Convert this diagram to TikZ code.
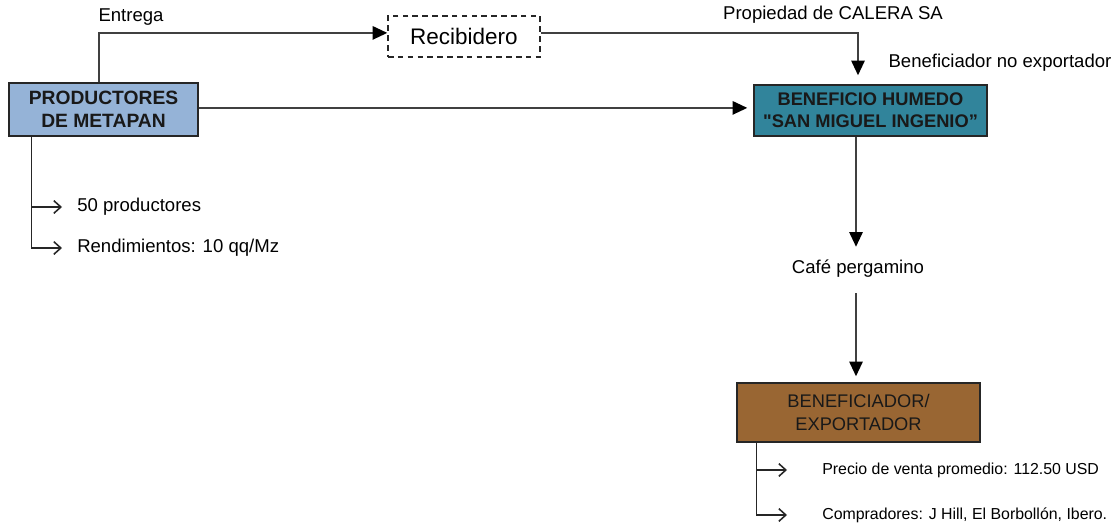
\documentclass[tikz,border=0pt]{standalone}
\usepackage{fontspec}
\setmainfont{Liberation Sans}
\usetikzlibrary{arrows.meta}

\definecolor{prodBlue}{RGB}{149,179,215}
\definecolor{humTeal}{RGB}{49,132,155}
\definecolor{expBrown}{RGB}{153,102,51}
\definecolor{lineGray}{RGB}{64,64,64}

\tikzset{
	actorbox/.style={rectangle, draw=black!85, line width=1pt, align=center, inner sep=0pt, text=black!90},
	flow/.style={draw=lineGray, line width=1.4pt, -{Triangle[length=10.5pt,width=9.5pt,color=black]}},
	tick/.style={draw=black!85, line width=1.1pt, -{Straight Barb[length=5pt,width=9pt]}},
	lbl/.style={inner sep=0pt, font=\fontsize{13.2}{15}\selectfont},
	note/.style={inner sep=0pt, anchor=west}
}

\begin{document}
\begin{tikzpicture}
	\useasboundingbox (0,0) rectangle (27.925,-13.225);

	\node[actorbox, fill=prodBlue, minimum width=4.725cm, minimum height=1.325cm, font=\bfseries\fontsize{13.7}{16}\selectfont](prod) at (2.5875,-2.7375){PRODUCTORES\\DE METAPAN};
	\node[rectangle, draw=black!85, dashed, dash pattern=on 4pt off 3pt, line width=1pt, minimum width=3.8cm, minimum height=1.025cm, font=\fontsize{16}{19}\selectfont](recib) at (11.6,-0.9125){Recibidero};
	\node[actorbox, fill=humTeal, minimum width=5.825cm, minimum height=1.275cm, font=\bfseries\fontsize{13}{15.5}\selectfont](humedo) at (21.7625,-2.7625){BENEFICIO HUMEDO\\\textquotedbl SAN MIGUEL INGENIO”};
	\node[actorbox, fill=expBrown, minimum width=6.075cm, minimum height=1.475cm, font=\fontsize{13}{16}\selectfont](export) at (21.4625,-10.3125){BENEFICIADOR/\\EXPORTADOR};

	\node[lbl](entrega) at (3.275,-0.425){Entrega};
	\node[lbl](calera) at (20.825,-0.375){Propiedad de CALERA SA};
	\node[lbl](noexport) at (25.0,-1.575){Beneficiador no exportador};
	\node[lbl](pergamino) at (21.45,-6.725){Café pergamino};

	\node[lbl, note](prodA) at (1.925,-5.175){50 productores};
	\node[lbl, note](prodB) at (1.925,-6.2){Rendimientos: 10 qq/Mz};
	\node[note, font=\fontsize{11.3}{13}\selectfont](expA) at (20.55,-11.75){Precio de venta promedio: 112.50 USD};
	\node[note, font=\fontsize{11.3}{13}\selectfont](expB) at (20.55,-12.875){Compradores: J Hill, El Borbollón, Ibero.};

	\coordinate (prodTop) at ([xshift=-0.1125cm]prod.north);
	\coordinate (prodStem) at ([xshift=0.575cm]prod.south west);
	\coordinate (expStem) at ([xshift=0.5cm]export.south west);
	\coordinate (humTop) at ([xshift=-0.3125cm]humedo.north);
	\coordinate (humBtm) at ([xshift=-0.3625cm]humedo.south);

	\draw[flow] (prodTop) |- ([yshift=0.09cm]recib.west);
	\draw[flow, shorten >=0.225cm] ([yshift=0.09cm]recib.east) -| (humTop);
	\draw[flow, shorten >=0.15cm] ([yshift=0.04cm]prod.east) -- ([yshift=0.04cm]prod.east -| humedo.west);
	\draw[flow, shorten >=0.33cm] (humBtm) -- (humBtm |- pergamino.north);
	\draw[flow, shorten <=0.375cm, shorten >=0.15cm] (humBtm |- pergamino.south) -- (humBtm |- export.north);

	\draw[tick, shorten >=0.375cm] (prodStem) |- (prodA.west);
	\draw[tick, shorten >=0.375cm] (prodStem) |- (prodB.west);
	\draw[tick, shorten >=0.875cm] (expStem) |- (expA.west);
	\draw[tick, shorten >=0.875cm] (expStem) |- (expB.west);
\end{tikzpicture}
\end{document}
